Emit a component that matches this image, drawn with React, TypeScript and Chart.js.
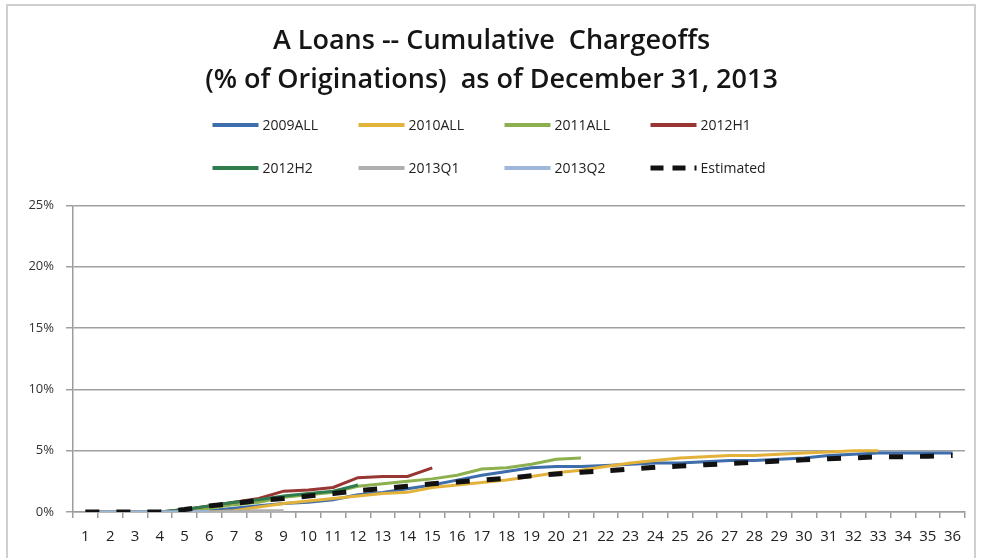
import React, { useEffect, useRef } from "react";
import { Chart, registerables } from "chart.js";

Chart.register(...registerables);

const months = ["1","2","3","4","5","6","7","8","9","10","11","12","13","14","15","16","17","18","19","20","21","22","23","24","25","26","27","28","29","30","31","32","33","34","35","36"];

const s2009ALL = [0,0,0,0,0,0.1,0.3,0.5,0.7,0.8,1.0,1.4,1.6,1.9,2.2,2.6,3.0,3.3,3.6,3.7,3.7,3.8,3.9,4.0,4.0,4.1,4.2,4.2,4.3,4.4,4.6,4.7,4.8,4.8,4.8,4.8];
const s2010ALL = [0,0,0,0,0,0,0.1,0.4,0.7,0.9,1.1,1.3,1.5,1.6,2.0,2.2,2.4,2.6,2.9,3.2,3.4,3.7,4.0,4.2,4.4,4.5,4.6,4.6,4.7,4.8,4.9,5.0,5.0];
const s2011ALL = [0,0,0,0,0.1,0.3,0.6,0.8,1.2,1.4,1.6,2.1,2.3,2.5,2.7,3.0,3.5,3.6,3.9,4.3,4.4];
const s2012H1 = [0,0,0,0,0.2,0.5,0.8,1.1,1.7,1.8,2.0,2.8,2.9,2.9,3.6];
const s2012H2 = [0,0,0,0,0.2,0.5,0.8,1.0,1.3,1.5,1.7,2.2];
const s2013Q1 = [0,0,0,0,0,0,0.05,0.1,0.1];
const s2013Q2 = [0,0,0,0,0,0.05];
const sEstimated = [0,0,0,0,0.2,0.5,0.7,0.95,1.1,1.3,1.5,1.75,1.9,2.1,2.3,2.45,2.6,2.75,2.95,3.1,3.25,3.35,3.5,3.65,3.75,3.85,3.95,4.05,4.15,4.25,4.35,4.4,4.5,4.5,4.55,4.6];

const seriesNames = ["2009ALL","2010ALL","2011ALL","2012H1","2012H2","2013Q1","2013Q2","Estimated"];
const seriesData = [s2009ALL,s2010ALL,s2011ALL,s2012H1,s2012H2,s2013Q1,s2013Q2,sEstimated];
const seriesColors = ["#3D6DAA","#E2B23A","#8CB04E","#983634","#2F7C4E","#AFAFAF","#9DB6D9","#111111"];

const yTicks = [0,5,10,15,20,25];

const FONT = "'Open Sans', 'DejaVu Sans', sans-serif";

const legendPlugin = {
  id: "gridLegend",
  afterDraw(chart: any) {
    const ctx = chart.ctx;
    const cx = chart.width / 2;
    const colW = 146;
    const startX = cx - 278;
    const rows = [125, 168];
    ctx.save();
    ctx.font = `14px ${FONT}`;
    ctx.textBaseline = "middle";
    ctx.fillStyle = "#222";
    seriesNames.forEach((name, i) => {
      const r = Math.floor(i / 4);
      const c = i % 4;
      const x = startX + c * colW;
      const y = rows[r];
      ctx.beginPath();
      ctx.strokeStyle = seriesColors[i];
      if (name === "Estimated") {
        ctx.lineWidth = 5;
        ctx.setLineDash([13, 9]);
      } else {
        ctx.lineWidth = 4;
        ctx.setLineDash([]);
      }
      ctx.moveTo(x, y);
      ctx.lineTo(x + 46, y);
      ctx.stroke();
      ctx.setLineDash([]);
      ctx.fillText(name, x + 50, y + 1);
    });
    ctx.restore();
  },
};

export default function App() {
  const ref = useRef<HTMLCanvasElement>(null);
  useEffect(() => {
    document.body.style.margin = "0";
    const datasets = seriesNames.map((name, i) => {
      const est = name === "Estimated";
      return {
        label: name,
        data: seriesData[i],
        borderColor: seriesColors[i],
        backgroundColor: seriesColors[i],
        borderWidth: est ? 5 : 3,
        borderDash: est ? [14, 17] : [],
        pointRadius: 0,
        tension: 0,
        fill: false,
        order: est ? 0 : 8 - i,
      };
    });
    const chart = new Chart(ref.current!, {
      type: "line",
      data: { labels: months, datasets },
      options: {
        animation: false,
        responsive: false,
        layout: { padding: { left: 18, right: 16, top: 0, bottom: 12 } },
        plugins: {
          legend: { display: false },
          tooltip: { enabled: false },
          title: {
            display: true,
            text: ["A Loans -- Cumulative  Chargeoffs", "(% of Originations)  as of December 31, 2013"],
            font: { family: FONT, size: 27, weight: "600", lineHeight: 1.45 },
            color: "#151515",
            padding: { top: 22, bottom: 105 },
          },
        },
        scales: {
          x: {
            offset: true,
            afterFit: (scale: any) => {
              scale.height = 34;
            },
            grid: {
              display: true,
              drawOnChartArea: false,
              drawTicks: true,
              tickLength: 6,
              color: "#9c9c9c",
              lineWidth: 1.5,
              offset: true,
            },
            border: { display: true, color: "#9c9c9c", width: 1.5 },
            ticks: {
              font: { family: FONT, size: 15 },
              color: "#222",
              padding: 10,
              maxRotation: 0,
              autoSkip: false,
            },
          },
          y: {
            min: 0,
            max: 25,
            afterBuildTicks: (scale: any) => {
              scale.ticks = yTicks.map((v) => ({ value: v }));
            },
            afterFit: (scale: any) => {
              scale.width = 55;
            },
            grid: {
              color: "#a0a0a0",
              lineWidth: 1.5,
              tickLength: 7,
            },
            border: { display: true, color: "#9c9c9c", width: 1.5 },
            ticks: {
              font: { family: FONT, size: 13 },
              color: "#333",
              padding: 12,
              callback: (v: any) => v + "%",
            },
          },
        },
      },
      plugins: [legendPlugin],
    });
    return () => chart.destroy();
  }, []);

  return (
    <div style={{ position: "relative", width: 981, height: 558, background: "#fff", overflow: "hidden" }}>
      <div style={{ position: "absolute", left: 6, top: 4, width: 970, height: 570, border: "2px solid #cfcfcf", boxSizing: "border-box" }} />
      <canvas ref={ref} width={981} height={558} style={{ position: "absolute", left: 0, top: 0, display: "block" }} />
    </div>
  );
}
